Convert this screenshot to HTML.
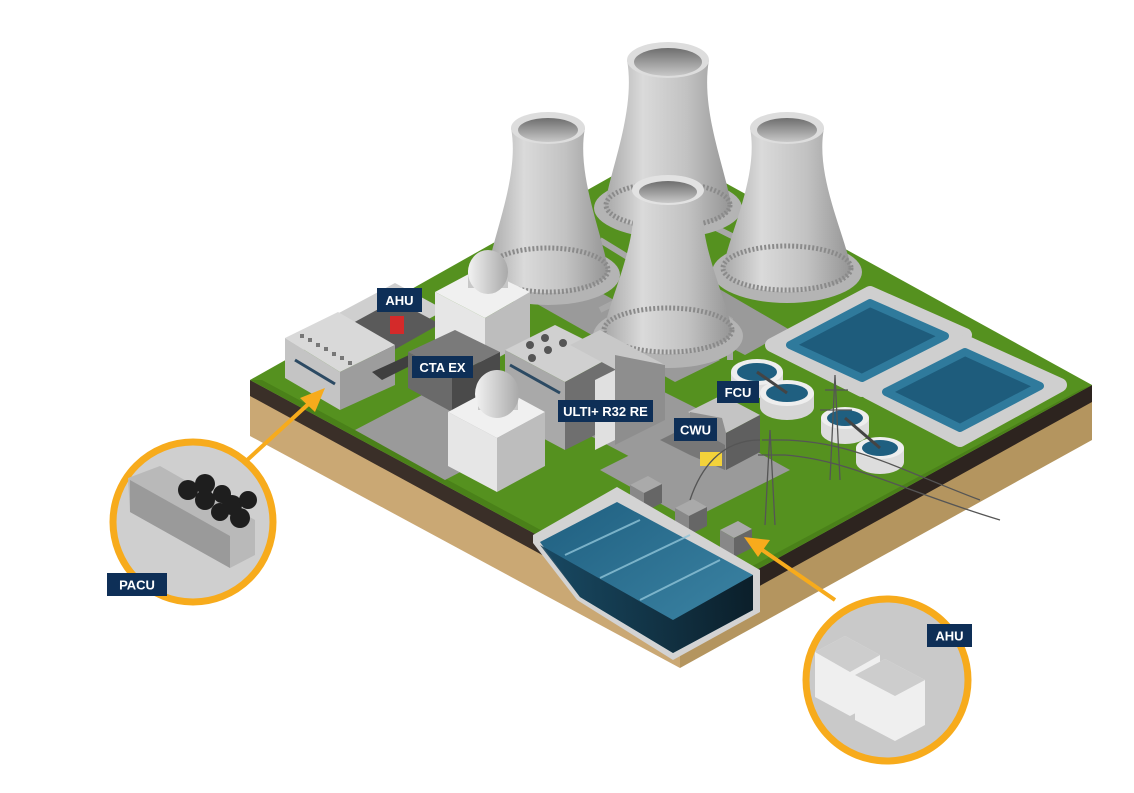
<!DOCTYPE html>
<html><head><meta charset="utf-8"><style>
html,body{margin:0;padding:0;background:#fff;}
svg{display:block;}
.lb{font-family:"Liberation Sans",sans-serif;font-weight:bold;fill:#fff;font-size:13px;}
</style></head><body>
<svg width="1134" height="793" viewBox="0 0 1134 793" xmlns="http://www.w3.org/2000/svg">
<defs>
<linearGradient id="tw" x1="0" x2="1" y1="0" y2="0">
<stop offset="0" stop-color="#a8a8a8"/><stop offset="0.3" stop-color="#dadada"/><stop offset="0.65" stop-color="#c2c2c2"/><stop offset="1" stop-color="#959595"/></linearGradient>
<linearGradient id="tin" x1="0" y1="0" x2="0" y2="1"><stop offset="0" stop-color="#6e6e6e"/><stop offset="1" stop-color="#c8c8c8"/></linearGradient>
<linearGradient id="dome" x1="0" x2="1"><stop offset="0" stop-color="#f2f2f2"/><stop offset="1" stop-color="#a9a9a9"/></linearGradient>
<linearGradient id="wat" x1="0" y1="0" x2="1" y2="1"><stop offset="0" stop-color="#1f5f80"/><stop offset="1" stop-color="#3f88a8"/></linearGradient>
<linearGradient id="wf" x1="0" y1="0" x2="1" y2="0"><stop offset="0" stop-color="#17465f"/><stop offset="1" stop-color="#06141d"/></linearGradient>
</defs>

<!-- plate -->
<polygon points="250,380 680,612 680,668 250,436" fill="#caa874"/>
<polygon points="680,612 1092,385 1092,440 680,668" fill="#b4955f"/>
<polygon points="250,380 680,612 680,630 250,396" fill="#3a2f28"/>
<polygon points="680,612 1092,385 1092,402 680,630" fill="#2d241f"/>
<polygon points="250,380 662,148 1092,385 680,612" fill="#55911f"/>
<polygon points="250,380 680,612 1092,385 1080,390 680,605 262,380" fill="#4a8119"/>

<!-- roads -->
<g fill="#9a9a9a">
<polygon points="355,430 470,370 560,420 445,480"/>
<polygon points="560,420 640,380 720,420 640,462"/>
<polygon points="600,470 700,420 790,470 690,520"/>
<polygon points="530,300 575,278 720,360 675,382"/>
<polygon points="640,300 690,272 790,330 745,355"/>
</g>
<g stroke="#a8a8a8" stroke-width="6" fill="none">
<path d="M600,240 L730,320 L730,360"/><path d="M700,220 L760,250"/><path d="M640,290 L600,310"/>
</g>

<!-- tanks -->
<g>
<path d="M772,345 L870,293 L965,335 L862,390 Z" fill="#e3e3e3" stroke="#cfcfcf" stroke-width="14" stroke-linejoin="round"/>
<path d="M790,345 L870,303 L945,336 L862,378 Z" fill="#1e5c7c" stroke="#2f7a9c" stroke-width="8" stroke-linejoin="round"/>
<path d="M868,392 L965,342 L1060,385 L960,440 Z" fill="#e3e3e3" stroke="#cfcfcf" stroke-width="14" stroke-linejoin="round"/>
<path d="M886,392 L965,352 L1040,386 L960,428 Z" fill="#1e5c7c" stroke="#2f7a9c" stroke-width="8" stroke-linejoin="round"/>
</g>
<!-- clarifiers -->
<g>
<ellipse cx="757" cy="385" rx="26" ry="13" fill="#ddd"/><rect x="731" y="372" width="52" height="13" fill="#ddd"/><ellipse cx="757" cy="372" rx="26" ry="13" fill="#eee"/><ellipse cx="757" cy="372" rx="20" ry="9" fill="#1f5f80"/>
<ellipse cx="787" cy="407" rx="27" ry="13" fill="#d5d5d5"/><rect x="760" y="393" width="54" height="14" fill="#d5d5d5"/><ellipse cx="787" cy="393" rx="27" ry="13" fill="#eee"/><ellipse cx="787" cy="393" rx="21" ry="9" fill="#1f5f80"/>
<line x1="757" y1="372" x2="787" y2="393" stroke="#444" stroke-width="3"/>
<ellipse cx="845" cy="432" rx="24" ry="12" fill="#ddd"/><rect x="821" y="418" width="48" height="14" fill="#ddd"/><ellipse cx="845" cy="418" rx="24" ry="11" fill="#eee"/><ellipse cx="845" cy="418" rx="18" ry="8" fill="#1f5f80"/>
<ellipse cx="880" cy="462" rx="24" ry="12" fill="#ddd"/><rect x="856" y="448" width="48" height="14" fill="#ddd"/><ellipse cx="880" cy="448" rx="24" ry="11" fill="#eee"/><ellipse cx="880" cy="448" rx="18" ry="8" fill="#1f5f80"/>
<line x1="845" y1="418" x2="880" y2="448" stroke="#444" stroke-width="3"/>
</g>

<!-- cooling towers -->
<g id="towers">
<ellipse cx="668" cy="208" rx="74" ry="30" fill="#b4b4b4"/>
<path d="M627,60 C636,110 610,170 605,205 A63,24 0 0 0 731,205 C726,170 700,110 709,60 Z" fill="url(#tw)"/>
<ellipse cx="668" cy="205" rx="62" ry="22" fill="none" stroke="#8a8a8a" stroke-width="5" stroke-dasharray="2 2"/>
<ellipse cx="668" cy="60" rx="41" ry="18" fill="#ddd"/><ellipse cx="668" cy="62" rx="34" ry="14" fill="url(#tin)"/>
<ellipse cx="548" cy="275" rx="72" ry="30" fill="#b4b4b4"/>
<path d="M511,128 C520,175 493,235 488,270 A60,23 0 0 0 608,270 C603,235 576,175 585,128 Z" fill="url(#tw)"/>
<ellipse cx="548" cy="270" rx="60" ry="22" fill="none" stroke="#8a8a8a" stroke-width="5" stroke-dasharray="2 2"/>
<ellipse cx="548" cy="128" rx="37" ry="16" fill="#ddd"/><ellipse cx="548" cy="130" rx="30" ry="12" fill="url(#tin)"/>
<ellipse cx="787" cy="272" rx="75" ry="31" fill="#b4b4b4"/>
<path d="M750,128 C759,175 730,232 723,268 A64,24 0 0 0 851,268 C844,232 815,175 824,128 Z" fill="url(#tw)"/>
<ellipse cx="787" cy="268" rx="64" ry="22" fill="none" stroke="#8a8a8a" stroke-width="5" stroke-dasharray="2 2"/>
<ellipse cx="787" cy="128" rx="37" ry="16" fill="#ddd"/><ellipse cx="787" cy="130" rx="30" ry="12" fill="url(#tin)"/>
<ellipse cx="668" cy="336" rx="75" ry="32" fill="#b4b4b4"/>
<path d="M632,190 C641,238 610,296 604,330 A64,24 0 0 0 732,330 C726,296 695,238 704,190 Z" fill="url(#tw)"/>
<ellipse cx="668" cy="330" rx="64" ry="22" fill="none" stroke="#8a8a8a" stroke-width="5" stroke-dasharray="2 2"/>
<ellipse cx="668" cy="190" rx="36" ry="15" fill="#e2e2e2"/><ellipse cx="668" cy="192" rx="29" ry="11" fill="url(#tin)"/>
</g>

<!-- AHU building back-left -->
<polygon points="322,322 395,283 445,310 372,350" fill="#cfcfcf"/>
<polygon points="340,330 395,300 440,324 385,355" fill="#5a5a5a"/>
<rect x="390" y="316" width="14" height="18" fill="#d42a2a"/>
<polygon points="285,338 338,312 395,345 340,372" fill="#d9d9d9"/>
<polygon points="285,338 340,372 340,410 285,378" fill="#c4c4c4"/>
<polygon points="340,372 395,345 395,385 340,410" fill="#9d9d9d"/>
<line x1="295" y1="360" x2="335" y2="384" stroke="#2c4a63" stroke-width="3"/>
<g fill="#777"><rect x="300" y="334" width="4" height="4"/><rect x="308" y="338" width="4" height="4"/><rect x="316" y="343" width="4" height="4"/><rect x="324" y="347" width="4" height="4"/><rect x="332" y="352" width="4" height="4"/><rect x="340" y="356" width="4" height="4"/><rect x="348" y="361" width="4" height="4"/></g>
<polygon points="372,372 420,350 430,356 382,380" fill="#3f3f3f"/>

<!-- reactor 1 -->
<polygon points="435,292 480,268 530,292 485,318" fill="#f0f0f0"/>
<polygon points="435,292 485,318 485,365 435,340" fill="#e6e6e6"/>
<polygon points="485,318 530,292 530,340 485,365" fill="#bdbdbd"/>
<rect x="468" y="270" width="40" height="18" fill="#c8c8c8"/>
<ellipse cx="488" cy="272" rx="20" ry="22" fill="url(#dome)"/>
<polygon points="408,352 455,330 500,352 452,376" fill="#7a7a7a"/>
<polygon points="408,352 452,376 452,412 408,388" fill="#6a6a6a"/>
<polygon points="452,376 500,352 500,388 452,412" fill="#4a4a4a"/>
<!-- ULTI building -->
<polygon points="505,350 555,325 615,355 565,382" fill="#d0d0d0"/>
<polygon points="505,350 565,382 565,450 505,418" fill="#a9a9a9"/>
<polygon points="565,382 615,355 615,425 565,450" fill="#6f6f6f"/>
<polygon points="570,345 600,330 665,365 635,380" fill="#c8c8c8"/>
<polygon points="615,355 665,365 665,420 615,445" fill="#8e8e8e"/>
<polygon points="595,380 615,370 615,440 595,450" fill="#e0e0e0"/>
<line x1="510" y1="365" x2="560" y2="393" stroke="#2c4a63" stroke-width="3"/>
<g fill="#555"><circle cx="530" cy="345" r="4"/><circle cx="545" cy="338" r="4"/><circle cx="548" cy="350" r="4"/><circle cx="563" cy="343" r="4"/><circle cx="532" cy="358" r="4"/></g>
<!-- reactor 2 -->
<polygon points="448,412 497,386 545,412 497,438" fill="#f0f0f0"/>
<polygon points="448,412 497,438 497,492 448,466" fill="#e6e6e6"/>
<polygon points="497,438 545,412 545,466 497,492" fill="#bdbdbd"/>
<rect x="478" y="392" width="40" height="18" fill="#c8c8c8"/>
<ellipse cx="497" cy="394" rx="22" ry="24" fill="url(#dome)"/>

<!-- CWU / FCU building -->
<polygon points="688,412 722,395 760,415 726,433" fill="#c4c4c4"/>
<polygon points="722,418 726,433 726,470 690,452 690,412" fill="#8f8f8f"/>
<polygon points="726,433 760,415 760,452 726,470" fill="#5f5f5f"/>
<polygon points="660,440 690,425 725,445 725,470 690,455" fill="#777"/>
<rect x="700" y="452" width="22" height="14" fill="#f3d23a"/>

<!-- transmission towers -->
<g stroke="#555" stroke-width="1.3" fill="none">
<path d="M765,525 L770,430 L775,525 M762,440 L780,440 M758,455 L785,455"/>
<path d="M830,480 L835,375 L840,480 M825,390 L848,390 M820,410 L852,410"/>
<path d="M780,440 C850,440 900,470 980,500 M785,455 C850,460 900,490 1000,520 M760,440 C720,440 700,470 690,500"/>
</g>

<!-- small houses near pool -->
<g>
<polygon points="630,485 648,476 662,484 644,493" fill="#aaa"/><polygon points="630,485 644,493 644,512 630,504" fill="#888"/><polygon points="644,493 662,484 662,503 644,512" fill="#666"/>
<polygon points="675,508 693,499 707,507 689,516" fill="#aaa"/><polygon points="675,508 689,516 689,535 675,527" fill="#888"/><polygon points="689,516 707,507 707,526 689,535" fill="#666"/>
<polygon points="720,530 738,521 752,529 734,538" fill="#aaa"/><polygon points="720,530 734,538 734,557 720,549" fill="#888"/><polygon points="734,538 752,529 752,548 734,557" fill="#666"/>
</g>

<!-- pool -->
<polygon points="533,535 617,487 760,570 760,612 673,660 577,600 533,543" fill="#d3d3d3"/>
<polygon points="540,542 617,502 753,575 753,610 673,653 580,597" fill="url(#wat)"/>
<polygon points="580,597 673,653 753,610 753,575 673,620 540,545" fill="url(#wf)" opacity="0.9"/>
<g stroke="#8fc4d8" stroke-width="2" opacity="0.8">
<line x1="565" y1="555" x2="640" y2="520"/><line x1="600" y1="578" x2="690" y2="535"/><line x1="640" y1="600" x2="720" y2="560"/>
</g>

<!-- arrows -->
<g stroke="#f7ab1c" stroke-width="4" fill="#f7ab1c">
<line x1="245" y1="462" x2="315" y2="398"/>
<polygon points="325,388 300,398 315,412" stroke="none"/>
<line x1="835" y1="600" x2="755" y2="545"/>
<polygon points="744,537 770,540 758,557" stroke="none"/>
</g>

<!-- PACU circle -->
<circle cx="193" cy="522" r="80" fill="#cfcfcf" stroke="#f7ab1c" stroke-width="7"/>
<polygon points="128,478 160,466 255,520 255,555 230,568 130,512" fill="#b9b9b9"/>
<polygon points="130,480 230,536 230,568 130,512" fill="#9a9a9a"/>
<g fill="#1e1e1e"><circle cx="188" cy="490" r="10"/><circle cx="205" cy="484" r="10"/><circle cx="205" cy="500" r="10"/><circle cx="222" cy="494" r="9"/><circle cx="232" cy="505" r="10"/><circle cx="248" cy="500" r="9"/><circle cx="240" cy="518" r="10"/><circle cx="220" cy="512" r="9"/></g>
<rect x="107" y="573" width="60" height="23" fill="#0e2f57"/>
<text x="137" y="589.5" class="lb" text-anchor="middle">PACU</text>

<!-- AHU circle -->
<circle cx="887" cy="680" r="81" fill="#c9c9c9" stroke="#f7ab1c" stroke-width="7"/>
<polygon points="815,652 845,636 880,655 880,700 850,716 815,697" fill="#efefef"/>
<polygon points="815,652 845,636 880,655 850,672" fill="#cdcdcd"/>
<polygon points="855,675 885,659 925,680 925,725 895,741 855,720" fill="#efefef"/>
<polygon points="855,675 885,659 925,680 895,696" fill="#cdcdcd"/>
<rect x="927" y="624" width="45" height="23" fill="#0e2f57"/>
<text x="949.5" y="640.5" class="lb" text-anchor="middle">AHU</text>

<!-- labels -->
<rect x="377" y="288" width="45" height="24" fill="#0e2f57"/><text x="399.5" y="305" class="lb" text-anchor="middle">AHU</text>
<rect x="412" y="356" width="61" height="22" fill="#0e2f57"/><text x="442.5" y="372" class="lb" text-anchor="middle">CTA EX</text>
<rect x="558" y="400" width="95" height="22" fill="#0e2f57"/><text x="605.5" y="416" class="lb" text-anchor="middle">ULTI+ R32 RE</text>
<rect x="717" y="381" width="42" height="22" fill="#0e2f57"/><text x="738" y="397" class="lb" text-anchor="middle">FCU</text>
<rect x="674" y="418" width="43" height="23" fill="#0e2f57"/><text x="695.5" y="434.5" class="lb" text-anchor="middle">CWU</text>
</svg>
</body></html>
